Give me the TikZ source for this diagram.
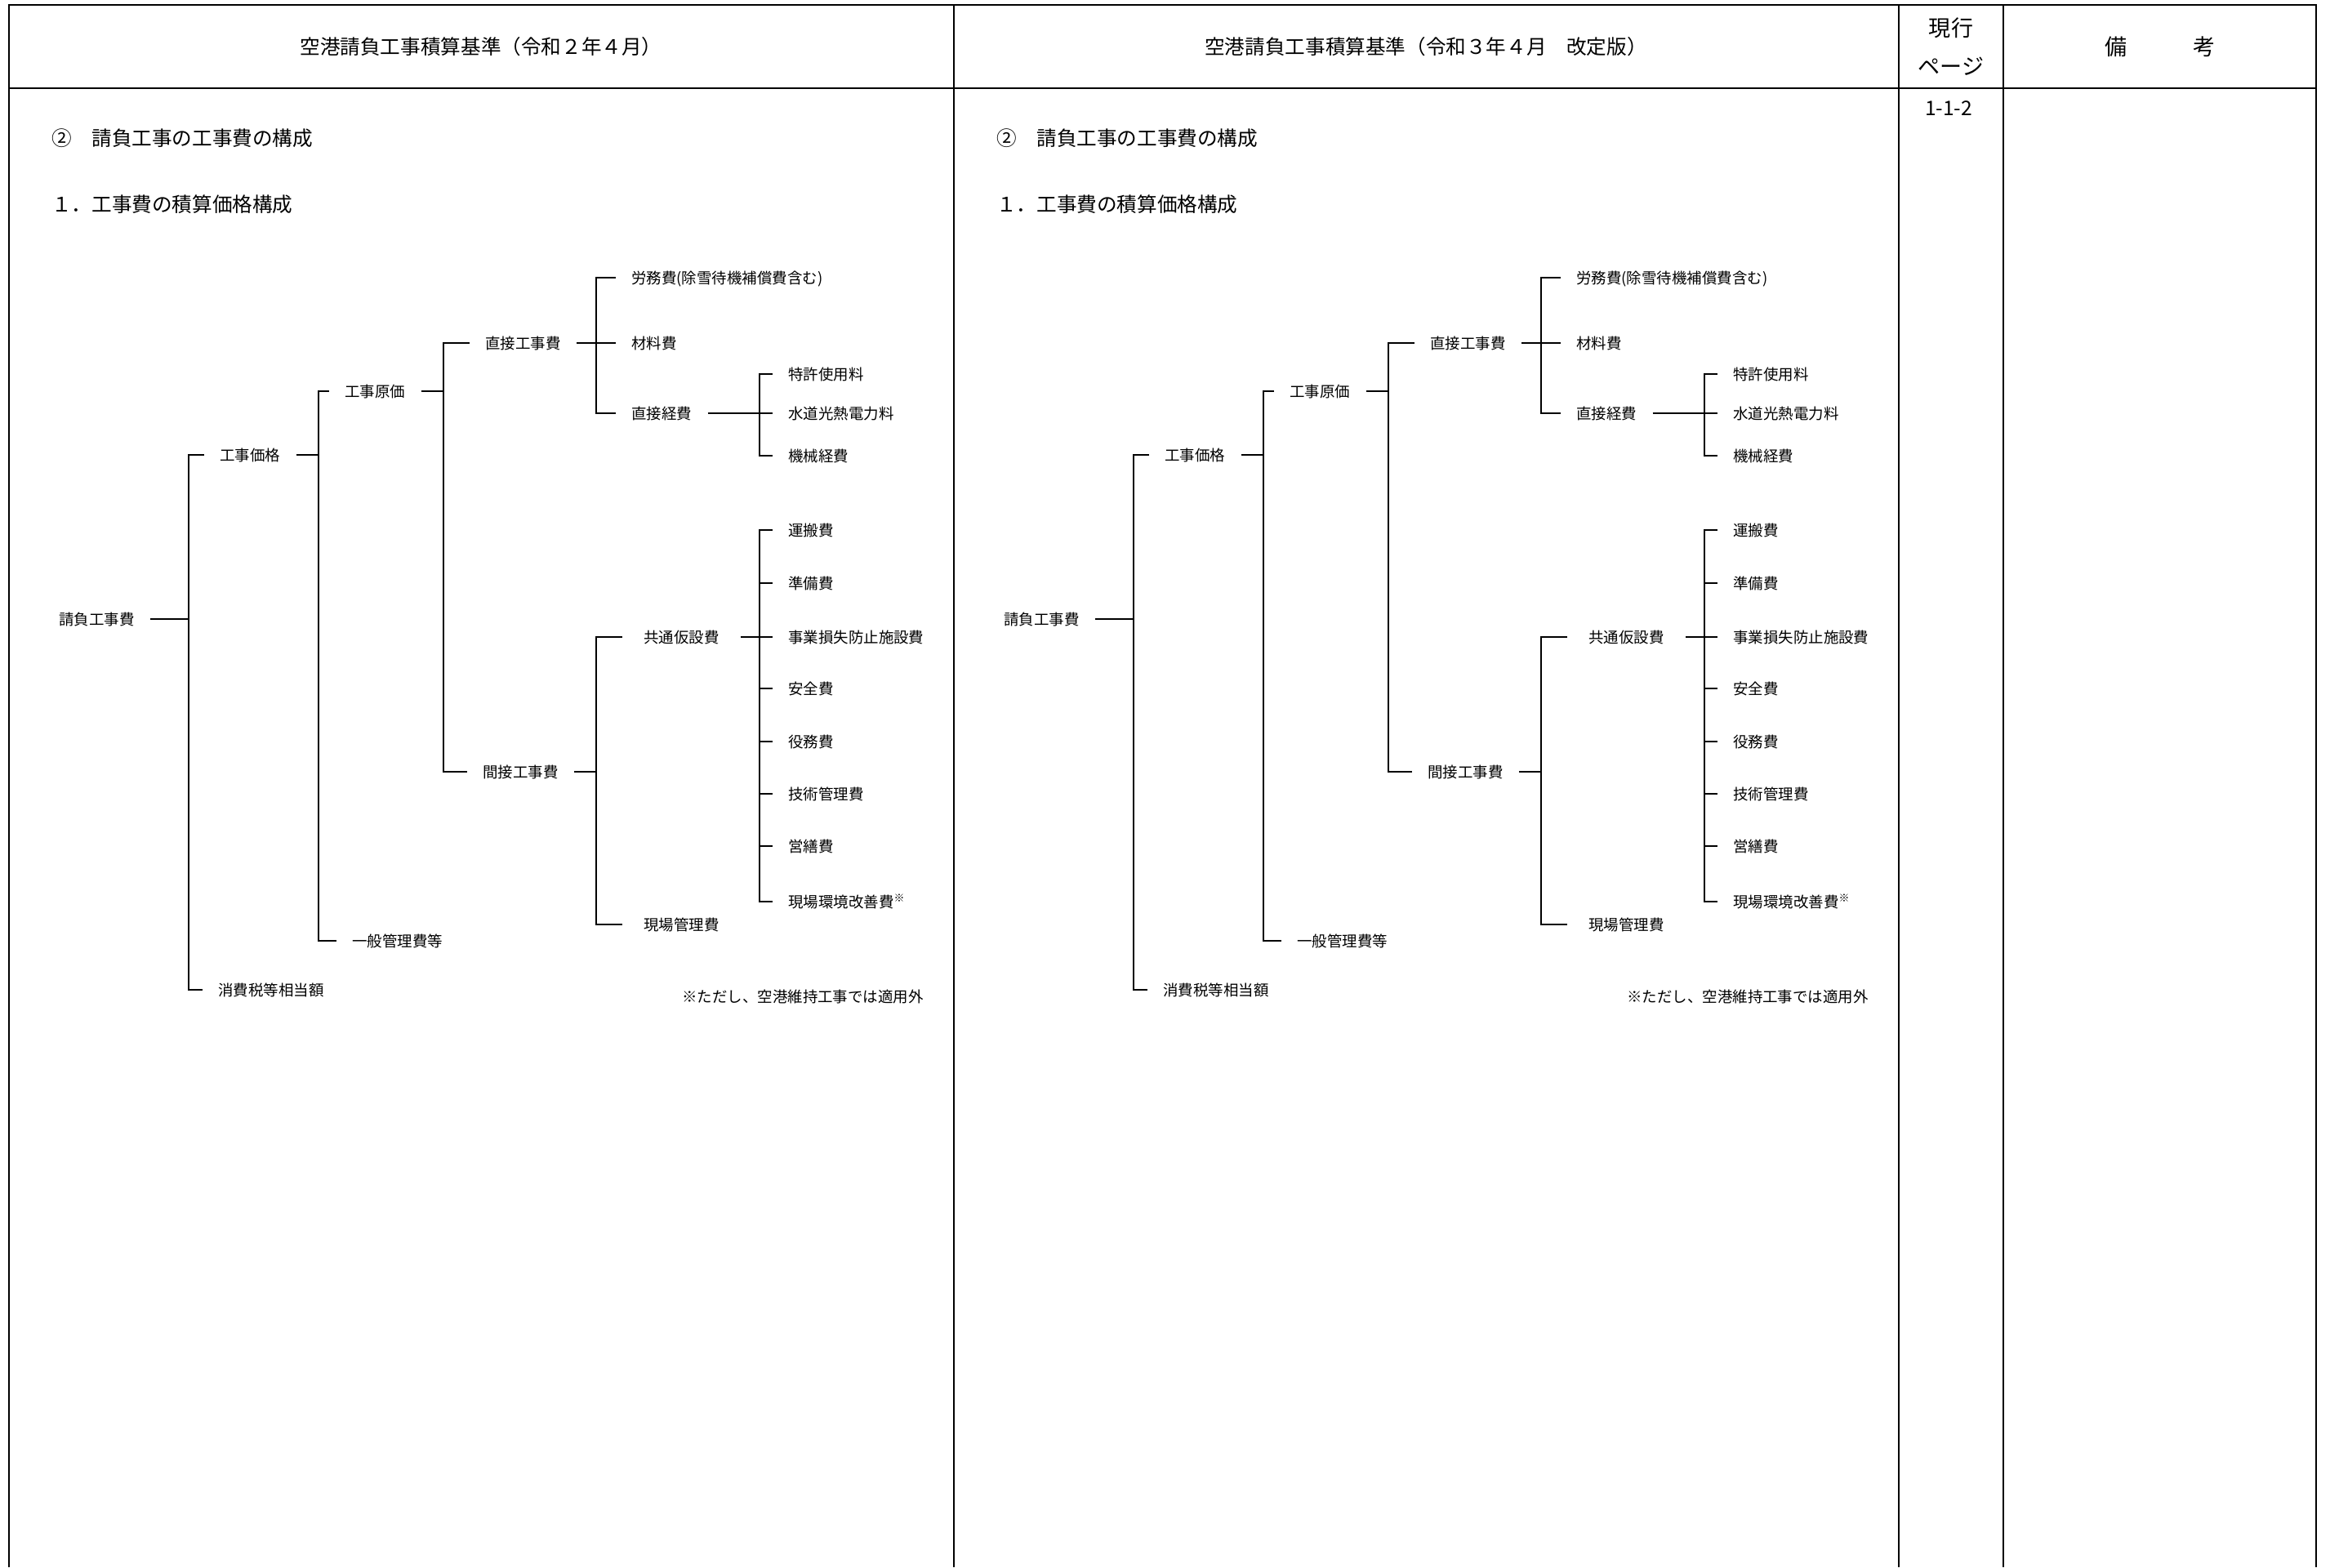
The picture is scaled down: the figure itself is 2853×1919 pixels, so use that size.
\documentclass[tikz,border=0pt]{standalone}
\usepackage{fontspec}
\setmainfont{Noto Sans CJK JP}

\tikzset{
  frame/.style={line width=0.3mm},
  link/.style={line width=0.35mm},
  item/.style={anchor=west, inner xsep=3.8mm, inner ysep=0pt, text height=3.3mm, text depth=0.5mm, font=\fontsize{10.5pt}{12pt}\selectfont},
  wideitem/.style={item, inner xsep=5.2mm},
  head/.style={inner sep=0pt, font=\fontsize{14pt}{17pt}\selectfont},
  title/.style={head, anchor=west, text height=4.4mm, text depth=0.6mm},
}

\begin{document}
\begin{tikzpicture}[x=0.2mm, y=-0.2mm]
\useasboundingbox (0,0) rectangle (2853,1919);

% table frame
\draw[frame] (11,1919) -- (11,6) -- (2836,6) -- (2836,1919);
\draw[frame] (11,108) -- (2836,108);
\foreach \x in {1168,2325,2453}
  \draw[frame] (\x,6) -- (\x,1919);

% header
\node[head] (oldhead) at (589,57) {空港請負工事積算基準（令和２年４月）};
\node[head] (newhead) at (1746,57) {空港請負工事積算基準（令和３年４月　改定版）};
\node[head, align=center, font=\fontsize{15.4pt}{26.7pt}\selectfont] (pagehead) at (2389,57) {現行\\ページ};
\node[head, font=\fontsize{15.4pt}{18pt}\selectfont] (notehead) at (2645,57) {備　　　考};
\node[head] (page) at (2386,133) {1-1-2};

% the same tree in both columns
\foreach \side/\dx in {L/0, R/1157} {
\begin{scope}[shift={(\dx,0)}, name prefix=\side-]
  \node[title] (sec) at (63,169) {②　請負工事の工事費の構成};
  \node[title] (sub) at (63,250) {１．工事費の積算価格構成};

  % labels
  \node[item] (ukeoi) at (53,758) {請負工事費};
  \node[item] (kakaku) at (250,557) {工事価格};
  \node[item] (shohizei) at (248,1212) {消費税等相当額};
  \node[item] (genka) at (403,479) {工事原価};
  \node[item] (ippan) at (412,1152) {一般管理費等};
  \node[item] (chokusetsu) at (575,420) {直接工事費};
  \node[item] (kansetsu) at (572,945) {間接工事費};
  \node[item] (romu) at (754,340) {労務費(除雪待機補償費含む)};
  \node[item] (zairyo) at (754,420) {材料費};
  \node[item] (keihi) at (754,506) {直接経費};
  \node[wideitem] (kyotsu) at (762,780) {共通仮設費};
  \node[wideitem] (genba) at (762,1132) {現場管理費};
  \node[item] (tokkyo) at (946,458) {特許使用料};
  \node[item] (suido) at (946,506) {水道光熱電力料};
  \node[item] (kikai) at (946,558) {機械経費};
  \node[item] (unpan) at (946,649) {運搬費};
  \node[item] (junbi) at (946,714) {準備費};
  \node[item] (jigyo) at (946,780) {事業損失防止施設費};
  \node[item] (anzen) at (946,843) {安全費};
  \node[item] (ekimu) at (946,908) {役務費};
  \node[item] (gijutsu) at (946,972) {技術管理費};
  \node[item] (eizen) at (946,1036) {営繕費};
  \node[item] (kankyo) at (946,1104) {現場環境改善費\textsuperscript{※}};
  \node[item, anchor=east] (note) at (1150,1220) {※ただし、空港維持工事では適用外};

  % bus lines
  \coordinate (ukeoi-bus) at (231,0);
  \coordinate (kakaku-bus) at (390,0);
  \coordinate (genka-bus) at (543,0);
  \coordinate (chokusetsu-bus) at (730,0);
  \coordinate (kansetsu-bus) at (730,0);
  \coordinate (keihi-bus) at (930,0);
  \coordinate (kyotsu-bus) at (930,0);

  % brackets
  \draw[link] (ukeoi.east) -- (ukeoi-bus |- ukeoi.east);
  \draw[link] (kakaku.west) -| (ukeoi-bus |- shohizei.west) -- (shohizei.west);

  \draw[link] (kakaku.east) -- (kakaku-bus |- kakaku.east);
  \draw[link] (genka.west) -| (kakaku-bus |- ippan.west) -- (ippan.west);

  \draw[link] (genka.east) -- (genka-bus |- genka.east);
  \draw[link] (chokusetsu.west) -| (genka-bus |- kansetsu.west) -- (kansetsu.west);

  \draw[link] (chokusetsu.east) -- (chokusetsu-bus |- chokusetsu.east);
  \draw[link] (romu.west) -| (chokusetsu-bus |- keihi.west) -- (keihi.west);
  \draw[link] (chokusetsu-bus |- zairyo.west) -- (zairyo.west);

  \draw[link] (keihi.east) -- (keihi-bus |- keihi.east);
  \draw[link] (tokkyo.west) -| (keihi-bus |- kikai.west) -- (kikai.west);
  \draw[link] (keihi-bus |- suido.west) -- (suido.west);

  \draw[link] (kansetsu.east) -- (kansetsu-bus |- kansetsu.east);
  \draw[link] (kyotsu.west) -| (kansetsu-bus |- genba.west) -- (genba.west);

  \draw[link] (kyotsu.east) -- (kyotsu-bus |- kyotsu.east);
  \draw[link] (unpan.west) -| (kyotsu-bus |- kankyo.west) -- (kankyo.west);
  \foreach \n in {junbi, jigyo, anzen, ekimu, gijutsu, eizen}
    \draw[link] (kyotsu-bus |- \n.west) -- (\n.west);
\end{scope}
}
\end{tikzpicture}
\end{document}
